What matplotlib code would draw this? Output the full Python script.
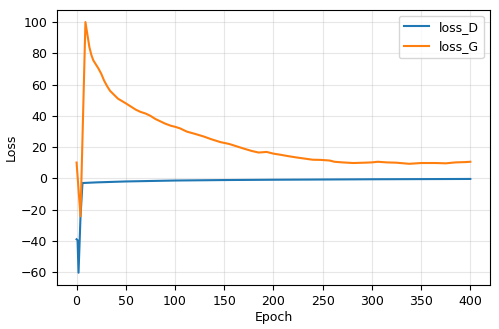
import matplotlib
matplotlib.use('Agg')
import matplotlib.pyplot as plt

# Values
epochs_D = [0, 1, 2, 4, 6, 20, 50, 100, 150, 200, 250, 300, 350, 400]
loss_D = [-39, -39.5, -60.4, -24.3, -3.0, -2.6, -2.0, -1.4, -1.1, -0.9, -0.75, -0.6, -0.5, -0.4]

epochs_G = [0, 4, 9, 11, 13, 15, 17, 20, 22, 25, 28, 31, 34, 38, 42, 46, 50, 55, 60,
            65, 70, 75, 80, 85, 90, 96, 100, 105, 112, 120, 129, 137, 146, 155, 163,
            170, 178, 185, 193, 200, 207, 215, 223, 232, 240, 248, 257, 262, 270,
            281, 292, 300, 306, 315, 325, 338, 350, 365, 375, 385, 395, 400]
loss_G = [10.1, -24.3, 100.0, 92.0, 84.0, 79.0, 75.5, 72.5, 70.5, 67.0, 62.5, 59.0,
          56.0, 53.5, 51.0, 49.5, 48.0, 46.0, 44.0, 42.5, 41.5, 40.0, 38.0, 36.5,
          35.0, 33.6, 33.0, 32.0, 29.9, 28.5, 26.8, 25.0, 23.2, 22.0, 20.4, 19.0,
          17.5, 16.5, 16.9, 15.8, 15.1, 14.2, 13.4, 12.6, 11.9, 11.8, 11.4, 10.6,
          10.2, 9.8, 10.0, 10.2, 10.6, 10.2, 10.0, 9.3, 9.8, 9.8, 9.6, 10.2, 10.4, 10.6]

fig, ax = plt.subplots(figsize=(4.99, 3.29), dpi=100)
ax.plot(epochs_D, loss_D, label='loss_D')
ax.plot(epochs_G, loss_G, label='loss_G')
ax.set_xlabel('Epoch', fontsize=9, labelpad=2)
ax.set_ylabel('Loss', fontsize=9, labelpad=2)
ax.tick_params(labelsize=9)
ax.set_xticks(range(0, 401, 50))
ax.set_yticks(range(-60, 101, 20))
ax.grid(True, alpha=0.3)
ax.legend(fontsize=9)

plt.subplots_adjust(left=0.114, right=0.982, top=0.971, bottom=0.133)
plt.savefig('out.png', dpi=100)
